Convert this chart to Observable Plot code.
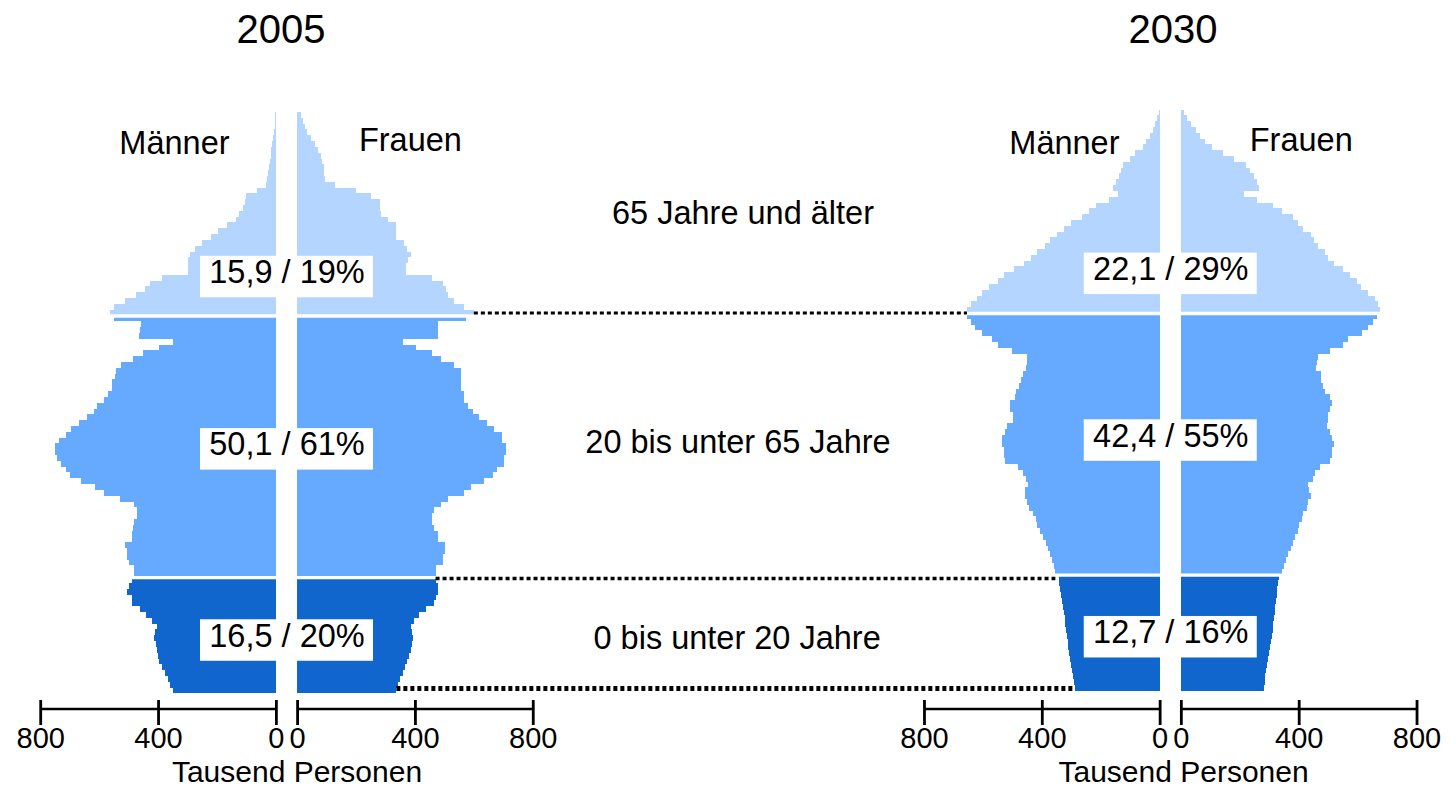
<!DOCTYPE html>
<html>
<head>
<meta charset="utf-8">
<script src="https://cdn.jsdelivr.net/npm/d3@7"></script>
<script src="https://cdn.jsdelivr.net/npm/@observablehq/plot@0.6"></script>
<style>
  html, body { margin: 0; padding: 0; background: #fff; }
  #chart { width: 1456px; height: 788px; overflow: hidden; }
</style>
</head>
<body>
<div id="chart"></div>
<script>
// ---------------- data ----------------
const ages = d3.range(100); // single years of age 0 … 99
const years = ["2005", "2030"];
const sexes = ["Männer", "Frauen"];
const bands = ["0 bis unter 20 Jahre", "20 bis unter 65 Jahre", "65 Jahre und älter"];
const bandStarts = [0, 20, 65];

// thousand persons by single year of age (index = age)
const men2005 = [
  349,360,366,375,385,397,400,403,408,415,410,405,421,440,460,488,488,506,500,488,
  482,482,500,506,506,512,488,488,485,482,470,470,482,530,585,615,660,700,712,730,
  743,749,749,736,712,694,667,640,619,606,585,570,555,555,545,543,525,485,452,397,
  349,464,460,458,549,
  563,549,512,476,444,427,385,300,300,300,292,275,251,221,197,166,136,125,112,106,
  100,64,34,30,27,25,21,18,15,13,10,7,4,3,2
];
const women2005 = [
  337,343,349,358,365,373,380,386,390,395,390,385,398,415,438,465,470,480,478,470,
  470,470,495,495,501,501,477,477,465,458,458,464,490,512,567,591,634,665,677,701,
  701,710,710,695,695,670,646,616,597,580,567,567,555,555,555,555,531,489,458,404,
  361,480,480,480,575,
  600,567,531,512,505,495,458,368,368,375,386,373,362,337,337,337,307,285,282,280,
  252,200,130,95,92,90,85,80,71,60,46,35,27,20,12
];
const men2030 = [
  287,290,293,298,302,305,308,310,312,315,318,320,322,325,328,330,335,338,340,342,
  354,360,366,372,378,385,396,405,415,420,430,443,450,457,457,448,455,463,481,525,
  530,530,536,536,525,518,499,499,508,508,490,487,479,470,463,455,451,451,500,548,
  569,603,627,639,654,
  654,639,620,603,580,550,530,494,460,435,415,390,372,348,325,300,263,240,215,172,
  142,160,148,138,130,124,100,82,57,45,33,21,15,8,3
];
const women2030 = [
  282,284,287,290,293,295,298,302,306,310,313,314,316,318,320,322,325,328,330,332,
  344,350,356,365,374,380,386,398,400,410,416,428,430,441,435,430,447,455,471,505,
  513,513,519,513,505,495,501,501,507,513,505,489,483,477,477,459,462,465,507,550,
  568,616,635,653,665,
  677,670,659,635,610,598,575,550,519,500,490,465,452,441,416,398,380,343,312,259,
  216,265,259,247,235,222,180,144,107,83,65,53,34,22,10
];
// totals per age band: "Mio. / Anteil"
const totals2005 = ["16,5 / 20%", "50,1 / 61%", "15,9 / 19%"];
const totals2030 = ["12,7 / 16%", "42,4 / 55%", "22,1 / 29%"];
const tickValues = [800, 400, 0];
const axisTitle = "Tausend Personen";

// ---------------- layout (positions / styles) ----------------
const L = {
  width: 1456, height: 788,
  font: "'Liberation Sans', Arial, Helvetica, sans-serif",
  centers: {"2005": 0, "2030": 3000},      // pyramid centre, in thousand-person units
  gap: 36,                                  // half of white centre strip
  xDomain: [-972.5, 3970],
  yDomain: [0, 100],
  yRange: [693.4, 112],
  marginBottom: 88,                         // frame bottom at y = 700
  shift: {"2005": 0, "2030": -2.5},
  colors: ["#1066cc", "#66aaff", "#b3d5ff"],
  titleX: {"2005": -20, "2030": 7.5}, titleBaseline: 42, titleSize: 40,
  sexX: {"2005": {"Männer": -382, "Frauen": 419}, "2030": {"Männer": -361, "Frauen": 443}},
  sexAge: {"Männer": 92.9, "Frauen": 93.46}, sexSize: 32.5,
  bandLabelX: [1528, 1531, 1548], bandLabelAge: [7.64, 41.35, 80.9], bandLabelSize: 32.5,
  boxAge: {"2005": [9.18, 42.06, 71.7], "2030": [9.75, 43.58, 72.25]},
  boxW: 173, boxH: 41.5, boxTextDy: 6, boxTextSize: 32.5,
  connectorY: [65.5, 19.85, 0.93], connectorAge: [65, 20, 0], connectorW: [3, 3.3, 5],
  axisLineDy: 9, tickSize: 25, tickPadding: 2.4, tickFont: 29,
  unitX: {"2005": 34, "2030": 43.5}, unitDy: 81.5, unitSize: 30
};

// ---------------- derived tables ----------------
const pyramids = [
  {year: "2005", men: men2005, women: women2005, totals: totals2005},
  {year: "2030", men: men2030, women: women2030, totals: totals2030}
];
const bandOf = a => a >= bandStarts[2] ? bands[2] : a >= bandStarts[1] ? bands[1] : bands[0];
const bars = pyramids.flatMap(p => ages.flatMap(a => [
  {year: p.year, sex: "Männer", age: a, value: p.men[a], band: bandOf(a)},
  {year: p.year, sex: "Frauen", age: a, value: p.women[a], band: bandOf(a)}
]));
const side = s => s === "Männer" ? -1 : 1;
const C = y => L.centers[y];

const boxes = pyramids.flatMap(p => p.totals.map((t, i) => ({year: p.year, text: t, age: L.boxAge[p.year][i]})));
const sexLabels = pyramids.flatMap(p => sexes.map(s => ({year: p.year, sex: s})));
const bandLabels = bands.map((b, i) => ({text: b, x: L.bandLabelX[i], age: L.bandLabelAge[i]}));
const connectors = L.connectorAge.map((a, i) => ({
  y: L.connectorY[i], w: L.connectorW[i],
  x1: C("2005") + L.gap + women2005[a],
  x2: C("2030") - L.gap - men2030[a]
}));
const tickDefs = pyramids.flatMap(p => [-1, 1].flatMap(s => tickValues.map(v => ({pos: C(p.year) + s * (L.gap + v), label: String(v)}))));
const tickLabel = new Map(tickDefs.map(d => [d.pos, d.label]));

// axis baseline segments (drawn through the x scale)
function axisLines(index, scales, values, dims) {
  const y = dims.height - dims.marginBottom + L.axisLineDy;
  const g = d3.create("svg:g").attr("stroke", "black").attr("stroke-width", 2.6);
  for (const p of pyramids) for (const s of [-1, 1]) {
    g.append("line")
      .attr("x1", scales.x(C(p.year) + s * L.gap))
      .attr("x2", scales.x(C(p.year) + s * (L.gap + d3.max(tickValues))))
      .attr("y1", y).attr("y2", y);
  }
  return g.node();
}

const marks = [];
for (const p of pyramids) {
  marks.push(Plot.rect(bars.filter(d => d.year === p.year), {
    x1: d => C(d.year) + side(d.sex) * L.gap,
    x2: d => C(d.year) + side(d.sex) * (L.gap + d.value),
    y1: "age", y2: d => d.age + 1,
    fill: "band", shapeRendering: "crispEdges", dy: L.shift[p.year]
  }));
  marks.push(Plot.ruleY(bandStarts.slice(1), {
    x1: C(p.year) - 1000, x2: C(p.year) + 1000,
    stroke: "white", strokeWidth: 3.3, dy: L.shift[p.year]
  }));
}
marks.push(
  Plot.ruleY(connectors, {y: "y", x1: "x1", x2: "x2", stroke: "black", strokeWidth: "w", strokeDasharray: "4,3"}),
  Plot.rect(boxes, {
    x1: d => C(d.year), x2: d => C(d.year), y1: "age", y2: "age",
    insetLeft: -L.boxW / 2, insetRight: -L.boxW / 2, insetTop: -L.boxH / 2, insetBottom: -L.boxH / 2,
    fill: "white"
  }),
  Plot.text(boxes, {x: d => C(d.year), y: "age", text: "text", dy: L.boxTextDy, lineAnchor: "bottom",
    fontSize: L.boxTextSize, fill: "black"}),
  Plot.text(bandLabels, {x: "x", y: "age", text: "text", lineAnchor: "bottom", fontSize: L.bandLabelSize, fill: "black"}),
  Plot.text(sexLabels, {x: d => C(d.year) + L.sexX[d.year][d.sex], y: d => L.sexAge[d.sex], text: "sex",
    lineAnchor: "bottom", fontSize: L.sexSize, fill: "black"}),
  Plot.text(pyramids, {x: d => C(d.year) + L.titleX[d.year], text: "year", frameAnchor: "top",
    dy: L.titleBaseline, lineAnchor: "bottom", fontSize: L.titleSize, fill: "black"}),
  axisLines,
  Plot.axisX(tickDefs.map(d => d.pos), {
    anchor: "bottom", tickSize: L.tickSize, tickPadding: L.tickPadding, strokeWidth: 2.8,
    tickFormat: t => tickLabel.get(t), fontSize: L.tickFont, fill: "black", label: null
  }),
  Plot.text(pyramids, {x: d => C(d.year) + L.unitX[d.year], text: () => axisTitle, frameAnchor: "bottom",
    dy: L.unitDy, lineAnchor: "bottom", fontSize: L.unitSize, fill: "black"})
);

const chart = Plot.plot({
  width: L.width, height: L.height,
  marginTop: 0, marginRight: 0, marginLeft: 0, marginBottom: L.marginBottom,
  style: {fontFamily: L.font, background: "white", color: "black", overflow: "visible"},
  x: {domain: L.xDomain, range: [0, L.width], axis: null},
  y: {domain: L.yDomain, range: L.yRange, axis: null},
  color: {domain: bands, range: L.colors},
  marks
});
document.getElementById("chart").append(chart);
</script>
</body>
</html>
